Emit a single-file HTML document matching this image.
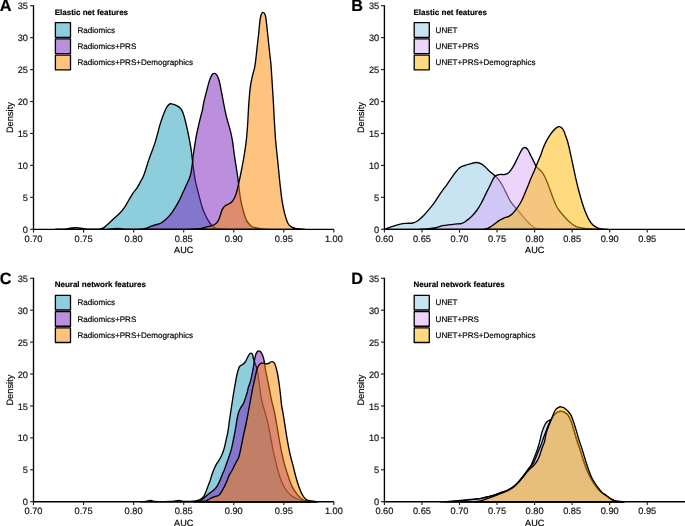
<!DOCTYPE html><html><head><meta charset="utf-8"><style>html,body{margin:0;padding:0;background:#fff;}svg{display:block;will-change:transform;} text{text-rendering:geometricPrecision;stroke:currentColor;stroke-width:0.18px;}</style></head><body>
<svg width="685" height="526" viewBox="0 0 685 526">
<rect width="685" height="526" fill="#fff"/>
<path d="M55.00,229.30 C56.17,229.28 60.00,229.28 62.00,229.20 C64.00,229.12 65.42,229.00 67.00,228.80 C68.58,228.60 69.95,228.20 71.50,228.00 C73.05,227.80 74.72,227.58 76.30,227.60 C77.88,227.62 79.55,227.88 81.00,228.10 C82.45,228.32 83.50,228.72 85.00,228.90 C86.50,229.08 88.00,229.15 90.00,229.20 C92.00,229.25 95.25,229.27 97.00,229.20 C98.75,229.13 99.35,229.07 100.50,228.80 C101.65,228.53 102.48,228.53 103.90,227.60 C105.32,226.67 107.28,224.75 109.00,223.20 C110.72,221.65 112.38,220.00 114.20,218.30 C116.02,216.60 118.23,214.75 119.90,213.00 C121.57,211.25 122.75,209.88 124.20,207.80 C125.65,205.72 127.13,202.93 128.60,200.50 C130.07,198.07 131.53,195.38 133.00,193.20 C134.47,191.02 136.07,189.47 137.40,187.40 C138.73,185.33 139.92,182.87 141.00,180.80 C142.08,178.73 142.55,178.65 143.90,175.00 C145.25,171.35 147.22,164.38 149.10,158.90 C150.98,153.42 153.42,147.68 155.20,142.10 C156.98,136.52 158.53,129.70 159.80,125.40 C161.07,121.10 161.78,119.08 162.80,116.30 C163.82,113.52 164.88,110.68 165.90,108.70 C166.92,106.72 168.02,105.22 168.90,104.40 C169.78,103.58 170.18,103.72 171.20,103.80 C172.22,103.88 173.73,104.38 175.00,104.90 C176.27,105.42 177.67,106.02 178.80,106.90 C179.93,107.78 180.92,108.63 181.80,110.20 C182.68,111.77 183.33,113.77 184.10,116.30 C184.87,118.83 185.63,122.10 186.40,125.40 C187.17,128.70 187.95,132.30 188.70,136.10 C189.45,139.90 190.30,144.40 190.90,148.20 C191.50,152.00 191.88,155.60 192.30,158.90 C192.72,162.20 192.88,164.30 193.40,168.00 C193.92,171.70 194.40,176.25 195.40,181.10 C196.40,185.95 198.33,192.95 199.40,197.10 C200.47,201.25 201.02,203.47 201.80,206.00 C202.58,208.53 203.12,210.03 204.10,212.30 C205.08,214.57 206.48,217.48 207.70,219.60 C208.92,221.72 210.18,223.63 211.40,225.00 C212.62,226.37 213.57,227.13 215.00,227.80 C216.43,228.47 217.83,228.75 220.00,229.00 C222.17,229.25 226.67,229.25 228.00,229.30 L228.00,229.30 L55.00,229.30 Z" fill="#1d9bb7" fill-opacity="0.500" stroke="#000" stroke-width="1.35" stroke-linejoin="round"/>
<path d="M108.00,229.30 C108.67,229.25 110.47,229.17 112.00,229.00 C113.53,228.83 115.53,228.30 117.20,228.30 C118.87,228.30 120.53,228.83 122.00,229.00 C123.47,229.17 123.33,229.25 126.00,229.30 C128.67,229.35 135.17,229.35 138.00,229.30 C140.83,229.25 141.60,229.18 143.00,229.00 C144.40,228.82 144.77,228.75 146.40,228.20 C148.03,227.65 150.38,226.55 152.80,225.70 C155.22,224.85 158.75,224.12 160.90,223.10 C163.05,222.08 163.83,221.38 165.70,219.60 C167.57,217.82 169.97,215.35 172.10,212.40 C174.23,209.45 176.62,205.38 178.50,201.90 C180.38,198.42 181.78,194.97 183.40,191.50 C185.02,188.03 187.02,183.85 188.20,181.10 C189.38,178.35 189.83,177.68 190.50,175.00 C191.17,172.32 191.73,168.33 192.20,165.00 C192.67,161.67 192.75,159.07 193.30,155.00 C193.85,150.93 194.92,144.18 195.50,140.60 C196.08,137.02 196.28,136.03 196.80,133.50 C197.32,130.97 198.02,127.97 198.60,125.40 C199.18,122.83 199.67,120.63 200.30,118.10 C200.93,115.57 201.83,112.77 202.40,110.20 C202.97,107.63 202.92,106.22 203.70,102.70 C204.48,99.18 206.10,92.93 207.10,89.10 C208.10,85.27 208.85,82.13 209.70,79.70 C210.55,77.27 211.43,75.57 212.20,74.50 C212.97,73.43 213.58,73.30 214.30,73.30 C215.02,73.30 215.70,73.30 216.50,74.50 C217.30,75.70 218.25,77.50 219.10,80.50 C219.95,83.50 220.75,88.22 221.60,92.50 C222.45,96.78 223.33,101.93 224.20,106.20 C225.07,110.47 225.80,114.12 226.80,118.10 C227.80,122.08 229.27,126.40 230.20,130.10 C231.13,133.80 231.73,136.32 232.40,140.30 C233.07,144.28 233.45,148.80 234.20,154.00 C234.95,159.20 236.17,166.55 236.90,171.50 C237.63,176.45 238.03,179.33 238.60,183.70 C239.17,188.07 239.57,193.33 240.30,197.70 C241.03,202.07 241.97,206.12 243.00,209.90 C244.03,213.68 245.05,217.63 246.50,220.40 C247.95,223.17 249.67,225.18 251.70,226.50 C253.73,227.82 256.48,227.85 258.70,228.30 C260.92,228.75 263.12,229.03 265.00,229.20 C266.88,229.37 269.17,229.28 270.00,229.30 L270.00,229.30 L108.00,229.30 Z" fill="#791fbd" fill-opacity="0.500" stroke="#000" stroke-width="1.35" stroke-linejoin="round"/>
<path d="M190.00,229.30 C190.83,229.27 193.38,229.20 195.00,229.10 C196.62,229.00 198.30,228.88 199.70,228.70 C201.10,228.52 202.18,228.32 203.40,228.00 C204.62,227.68 205.67,227.17 207.00,226.80 C208.33,226.43 210.07,226.22 211.40,225.80 C212.73,225.38 213.90,225.08 215.00,224.30 C216.10,223.52 217.15,222.48 218.00,221.10 C218.85,219.72 219.38,217.95 220.10,216.00 C220.82,214.05 221.40,211.13 222.30,209.40 C223.20,207.67 224.38,206.53 225.50,205.60 C226.62,204.67 227.83,204.53 229.00,203.80 C230.17,203.07 231.33,202.80 232.50,201.20 C233.67,199.60 234.98,197.12 236.00,194.20 C237.02,191.28 237.73,187.48 238.60,183.70 C239.47,179.92 240.33,175.87 241.20,171.50 C242.07,167.13 242.97,162.53 243.80,157.50 C244.63,152.47 245.57,146.72 246.20,141.30 C246.83,135.88 247.18,130.98 247.60,125.00 C248.02,119.02 248.25,111.72 248.70,105.40 C249.15,99.08 249.67,92.05 250.30,87.10 C250.93,82.15 251.75,79.12 252.50,75.70 C253.25,72.28 254.15,70.22 254.80,66.60 C255.45,62.98 255.95,57.82 256.40,54.00 C256.85,50.18 257.12,47.12 257.50,43.70 C257.88,40.28 258.32,37.10 258.70,33.50 C259.08,29.90 259.42,25.13 259.80,22.10 C260.18,19.07 260.47,16.92 261.00,15.30 C261.53,13.68 262.28,12.40 263.00,12.40 C263.72,12.40 264.73,13.68 265.30,15.30 C265.87,16.92 266.02,19.07 266.40,22.10 C266.78,25.13 267.22,29.90 267.60,33.50 C267.98,37.10 268.33,40.28 268.70,43.70 C269.07,47.12 269.42,50.45 269.80,54.00 C270.18,57.55 270.63,60.62 271.00,65.00 C271.37,69.38 271.62,74.33 272.00,80.30 C272.38,86.27 272.92,94.18 273.30,100.80 C273.68,107.42 273.90,113.25 274.30,120.00 C274.70,126.75 275.10,134.20 275.70,141.30 C276.30,148.40 277.18,155.52 277.90,162.60 C278.62,169.68 279.30,177.42 280.00,183.80 C280.70,190.18 281.32,195.93 282.10,200.90 C282.88,205.87 283.73,209.88 284.70,213.60 C285.67,217.32 286.67,220.90 287.90,223.20 C289.13,225.50 290.52,226.48 292.10,227.40 C293.68,228.32 295.25,228.38 297.40,228.70 C299.55,229.02 303.73,229.20 305.00,229.30 L305.00,229.30 L190.00,229.30 Z" fill="#ff8701" fill-opacity="0.500" stroke="#000" stroke-width="1.35" stroke-linejoin="round"/>
<path d="M33.50,5.19 V229.30 H333.89" fill="none" stroke="#000" stroke-width="1.35" stroke-linecap="butt"/>
<line x1="30.10" y1="229.30" x2="33.50" y2="229.30" stroke="#222" stroke-width="1.15"/>
<text x="28.00" y="232.90" text-anchor="end" font-family="Liberation Sans, sans-serif" font-size="9.25" fill="#1a1a1a">0</text>
<line x1="30.10" y1="197.36" x2="33.50" y2="197.36" stroke="#222" stroke-width="1.15"/>
<text x="28.00" y="200.96" text-anchor="end" font-family="Liberation Sans, sans-serif" font-size="9.25" fill="#1a1a1a">5</text>
<line x1="30.10" y1="165.41" x2="33.50" y2="165.41" stroke="#222" stroke-width="1.15"/>
<text x="28.00" y="169.01" text-anchor="end" font-family="Liberation Sans, sans-serif" font-size="9.25" fill="#1a1a1a">10</text>
<line x1="30.10" y1="133.47" x2="33.50" y2="133.47" stroke="#222" stroke-width="1.15"/>
<text x="28.00" y="137.06" text-anchor="end" font-family="Liberation Sans, sans-serif" font-size="9.25" fill="#1a1a1a">15</text>
<line x1="30.10" y1="101.52" x2="33.50" y2="101.52" stroke="#222" stroke-width="1.15"/>
<text x="28.00" y="105.12" text-anchor="end" font-family="Liberation Sans, sans-serif" font-size="9.25" fill="#1a1a1a">20</text>
<line x1="30.10" y1="69.58" x2="33.50" y2="69.58" stroke="#222" stroke-width="1.15"/>
<text x="28.00" y="73.18" text-anchor="end" font-family="Liberation Sans, sans-serif" font-size="9.25" fill="#1a1a1a">25</text>
<line x1="30.10" y1="37.63" x2="33.50" y2="37.63" stroke="#222" stroke-width="1.15"/>
<text x="28.00" y="41.23" text-anchor="end" font-family="Liberation Sans, sans-serif" font-size="9.25" fill="#1a1a1a">30</text>
<line x1="30.10" y1="5.69" x2="33.50" y2="5.69" stroke="#222" stroke-width="1.15"/>
<text x="28.00" y="9.29" text-anchor="end" font-family="Liberation Sans, sans-serif" font-size="9.25" fill="#1a1a1a">35</text>
<line x1="33.50" y1="229.30" x2="33.50" y2="232.60" stroke="#222" stroke-width="1.15"/>
<text x="33.50" y="241.80" text-anchor="middle" font-family="Liberation Sans, sans-serif" font-size="9.25" fill="#1a1a1a">0.70</text>
<line x1="83.56" y1="229.30" x2="83.56" y2="232.60" stroke="#222" stroke-width="1.15"/>
<text x="83.56" y="241.80" text-anchor="middle" font-family="Liberation Sans, sans-serif" font-size="9.25" fill="#1a1a1a">0.75</text>
<line x1="133.63" y1="229.30" x2="133.63" y2="232.60" stroke="#222" stroke-width="1.15"/>
<text x="133.63" y="241.80" text-anchor="middle" font-family="Liberation Sans, sans-serif" font-size="9.25" fill="#1a1a1a">0.80</text>
<line x1="183.70" y1="229.30" x2="183.70" y2="232.60" stroke="#222" stroke-width="1.15"/>
<text x="183.70" y="241.80" text-anchor="middle" font-family="Liberation Sans, sans-serif" font-size="9.25" fill="#1a1a1a">0.85</text>
<line x1="233.76" y1="229.30" x2="233.76" y2="232.60" stroke="#222" stroke-width="1.15"/>
<text x="233.76" y="241.80" text-anchor="middle" font-family="Liberation Sans, sans-serif" font-size="9.25" fill="#1a1a1a">0.90</text>
<line x1="283.82" y1="229.30" x2="283.82" y2="232.60" stroke="#222" stroke-width="1.15"/>
<text x="283.82" y="241.80" text-anchor="middle" font-family="Liberation Sans, sans-serif" font-size="9.25" fill="#1a1a1a">0.95</text>
<line x1="333.89" y1="229.30" x2="333.89" y2="232.60" stroke="#222" stroke-width="1.15"/>
<text x="333.89" y="241.80" text-anchor="middle" font-family="Liberation Sans, sans-serif" font-size="9.25" fill="#1a1a1a">1.00</text>
<text x="183.70" y="253.30" text-anchor="middle" font-family="Liberation Sans, sans-serif" font-size="9.1" fill="#000">AUC</text>
<text transform="translate(12.80,117.59) rotate(-90)" text-anchor="middle" font-family="Liberation Sans, sans-serif" font-size="9.3" fill="#000">Density</text>
<text x="54.70" y="14.65" font-family="Liberation Sans, sans-serif" font-size="8" font-weight="bold" fill="#000">Elastic net features</text>
<rect x="55.40" y="22.70" width="15.1" height="14.6" fill="#1d9bb7" fill-opacity="0.5" stroke="#000" stroke-width="1.3" stroke-linejoin="round"/>
<text x="77.40" y="32.75" font-family="Liberation Sans, sans-serif" font-size="8.07" fill="#000">Radiomics</text>
<rect x="55.40" y="38.95" width="15.1" height="14.6" fill="#791fbd" fill-opacity="0.5" stroke="#000" stroke-width="1.3" stroke-linejoin="round"/>
<text x="77.40" y="49.00" font-family="Liberation Sans, sans-serif" font-size="8.07" fill="#000">Radiomics+PRS</text>
<rect x="55.40" y="55.20" width="15.1" height="14.6" fill="#ff8701" fill-opacity="0.5" stroke="#000" stroke-width="1.3" stroke-linejoin="round"/>
<text x="77.40" y="65.25" font-family="Liberation Sans, sans-serif" font-size="8.07" fill="#000">Radiomics+PRS+Demographics</text>
<path d="M384.40,229.30 C385.00,229.08 386.65,228.48 388.00,228.00 C389.35,227.52 390.45,227.05 392.50,226.40 C394.55,225.75 397.97,224.62 400.30,224.10 C402.63,223.58 404.42,223.48 406.50,223.30 C408.58,223.12 410.98,223.38 412.80,223.00 C414.62,222.62 415.85,221.98 417.40,221.00 C418.95,220.02 420.27,218.92 422.10,217.10 C423.93,215.28 426.32,212.57 428.40,210.10 C430.48,207.63 432.53,205.17 434.60,202.30 C436.67,199.43 438.72,195.90 440.80,192.90 C442.88,189.90 445.02,187.23 447.10,184.30 C449.18,181.37 451.30,177.98 453.30,175.30 C455.30,172.62 457.22,169.83 459.10,168.20 C460.98,166.57 462.77,166.23 464.60,165.50 C466.43,164.77 468.17,164.30 470.10,163.80 C472.03,163.30 474.50,162.57 476.20,162.50 C477.90,162.43 478.82,162.68 480.30,163.40 C481.78,164.12 483.38,165.32 485.10,166.80 C486.82,168.28 488.90,170.78 490.60,172.30 C492.30,173.82 493.83,174.52 495.30,175.90 C496.77,177.28 498.12,178.83 499.40,180.60 C500.68,182.37 501.82,184.33 503.00,186.50 C504.18,188.67 505.33,191.23 506.50,193.60 C507.67,195.97 508.82,198.73 510.00,200.70 C511.18,202.67 512.52,204.03 513.60,205.40 C514.68,206.77 515.32,207.53 516.50,208.90 C517.68,210.27 519.22,211.83 520.70,213.60 C522.18,215.37 523.83,217.73 525.40,219.50 C526.97,221.27 528.53,222.82 530.10,224.20 C531.67,225.58 533.15,226.98 534.80,227.80 C536.45,228.62 538.30,228.85 540.00,229.10 C541.70,229.35 544.17,229.27 545.00,229.30 L545.00,229.30 L384.40,229.30 Z" fill="#91c9e5" fill-opacity="0.500" stroke="#000" stroke-width="1.35" stroke-linejoin="round"/>
<path d="M420.00,229.30 C421.13,229.22 424.37,229.02 426.80,228.80 C429.23,228.58 432.00,228.52 434.60,228.00 C437.20,227.48 439.80,226.27 442.40,225.70 C445.00,225.13 448.10,224.87 450.20,224.60 C452.30,224.33 453.03,224.32 455.00,224.10 C456.97,223.88 460.02,223.92 462.00,223.30 C463.98,222.68 465.27,221.57 466.90,220.40 C468.53,219.23 470.17,217.95 471.80,216.30 C473.43,214.65 475.20,212.55 476.70,210.50 C478.20,208.45 479.57,206.17 480.80,204.00 C482.03,201.83 483.02,199.68 484.10,197.50 C485.18,195.32 486.35,192.82 487.30,190.90 C488.25,188.98 488.97,187.68 489.80,186.00 C490.63,184.32 491.38,182.48 492.30,180.80 C493.22,179.12 493.98,176.97 495.30,175.90 C496.62,174.83 498.77,174.62 500.20,174.40 C501.63,174.18 502.48,174.88 503.90,174.60 C505.32,174.32 507.08,174.15 508.70,172.70 C510.32,171.25 511.98,168.65 513.60,165.90 C515.22,163.15 516.95,159.02 518.40,156.20 C519.85,153.38 521.22,150.45 522.30,149.00 C523.38,147.55 524.02,147.43 524.90,147.50 C525.78,147.57 526.57,147.95 527.60,149.40 C528.63,150.85 529.87,153.77 531.10,156.20 C532.33,158.63 534.10,162.22 535.00,164.00 C535.90,165.78 535.38,165.62 536.50,166.90 C537.62,168.18 540.18,169.77 541.70,171.70 C543.22,173.63 544.30,175.73 545.60,178.50 C546.90,181.27 548.20,184.90 549.50,188.30 C550.80,191.70 552.10,195.67 553.40,198.90 C554.70,202.13 556.20,205.60 557.30,207.70 C558.40,209.80 558.77,209.95 560.00,211.50 C561.23,213.05 563.15,215.30 564.70,217.00 C566.25,218.70 567.48,220.15 569.30,221.70 C571.12,223.25 573.52,225.27 575.60,226.30 C577.68,227.33 579.73,227.50 581.80,227.90 C583.87,228.30 585.63,228.47 588.00,228.70 C590.37,228.93 594.67,229.20 596.00,229.30 L596.00,229.30 L420.00,229.30 Z" fill="#d9a9f9" fill-opacity="0.500" stroke="#000" stroke-width="1.35" stroke-linejoin="round"/>
<path d="M484.00,229.30 C484.50,229.18 486.00,228.95 487.00,228.60 C488.00,228.25 488.72,227.98 490.00,227.20 C491.28,226.42 493.13,225.03 494.70,223.90 C496.27,222.77 497.82,221.42 499.40,220.40 C500.98,219.38 502.62,218.48 504.20,217.80 C505.78,217.12 507.53,216.97 508.90,216.30 C510.27,215.63 511.13,215.05 512.40,213.80 C513.67,212.55 515.12,210.68 516.50,208.80 C517.88,206.92 519.42,204.80 520.70,202.50 C521.98,200.20 523.03,197.67 524.20,195.00 C525.37,192.33 526.52,189.42 527.70,186.50 C528.88,183.58 530.12,180.33 531.30,177.50 C532.48,174.67 533.65,172.25 534.80,169.50 C535.95,166.75 537.20,163.42 538.20,161.00 C539.20,158.58 540.00,157.10 540.80,155.00 C541.60,152.90 542.12,150.63 543.00,148.40 C543.88,146.17 545.08,143.62 546.10,141.60 C547.12,139.58 547.97,138.02 549.10,136.30 C550.23,134.58 551.70,132.70 552.90,131.30 C554.10,129.90 555.22,128.67 556.30,127.90 C557.38,127.13 558.43,126.63 559.40,126.70 C560.37,126.77 561.33,127.53 562.10,128.30 C562.87,129.07 563.43,130.10 564.00,131.30 C564.57,132.50 564.93,133.92 565.50,135.50 C566.07,137.08 566.77,138.65 567.40,140.80 C568.03,142.95 568.78,146.20 569.30,148.40 C569.82,150.60 570.10,152.18 570.50,154.00 C570.90,155.82 571.12,156.60 571.70,159.30 C572.28,162.00 573.22,166.55 574.00,170.20 C574.78,173.85 575.62,177.82 576.40,181.20 C577.18,184.58 577.80,187.13 578.70,190.50 C579.60,193.87 580.77,198.03 581.80,201.40 C582.83,204.77 583.73,207.72 584.90,210.70 C586.07,213.68 587.50,216.95 588.80,219.30 C590.10,221.65 591.27,223.37 592.70,224.80 C594.13,226.23 595.85,227.22 597.40,227.90 C598.95,228.58 600.23,228.67 602.00,228.90 C603.77,229.13 607.00,229.23 608.00,229.30 L608.00,229.30 L484.00,229.30 Z" fill="#ffb500" fill-opacity="0.500" stroke="#000" stroke-width="1.35" stroke-linejoin="round"/>
<path d="M384.40,5.19 V229.30 H685.00" fill="none" stroke="#000" stroke-width="1.35" stroke-linecap="butt"/>
<line x1="381.00" y1="229.30" x2="384.40" y2="229.30" stroke="#222" stroke-width="1.15"/>
<text x="379.20" y="232.90" text-anchor="end" font-family="Liberation Sans, sans-serif" font-size="9.25" fill="#1a1a1a">0</text>
<line x1="381.00" y1="197.36" x2="384.40" y2="197.36" stroke="#222" stroke-width="1.15"/>
<text x="379.20" y="200.96" text-anchor="end" font-family="Liberation Sans, sans-serif" font-size="9.25" fill="#1a1a1a">5</text>
<line x1="381.00" y1="165.41" x2="384.40" y2="165.41" stroke="#222" stroke-width="1.15"/>
<text x="379.20" y="169.01" text-anchor="end" font-family="Liberation Sans, sans-serif" font-size="9.25" fill="#1a1a1a">10</text>
<line x1="381.00" y1="133.47" x2="384.40" y2="133.47" stroke="#222" stroke-width="1.15"/>
<text x="379.20" y="137.06" text-anchor="end" font-family="Liberation Sans, sans-serif" font-size="9.25" fill="#1a1a1a">15</text>
<line x1="381.00" y1="101.52" x2="384.40" y2="101.52" stroke="#222" stroke-width="1.15"/>
<text x="379.20" y="105.12" text-anchor="end" font-family="Liberation Sans, sans-serif" font-size="9.25" fill="#1a1a1a">20</text>
<line x1="381.00" y1="69.58" x2="384.40" y2="69.58" stroke="#222" stroke-width="1.15"/>
<text x="379.20" y="73.18" text-anchor="end" font-family="Liberation Sans, sans-serif" font-size="9.25" fill="#1a1a1a">25</text>
<line x1="381.00" y1="37.63" x2="384.40" y2="37.63" stroke="#222" stroke-width="1.15"/>
<text x="379.20" y="41.23" text-anchor="end" font-family="Liberation Sans, sans-serif" font-size="9.25" fill="#1a1a1a">30</text>
<line x1="381.00" y1="5.69" x2="384.40" y2="5.69" stroke="#222" stroke-width="1.15"/>
<text x="379.20" y="9.29" text-anchor="end" font-family="Liberation Sans, sans-serif" font-size="9.25" fill="#1a1a1a">35</text>
<line x1="384.40" y1="229.30" x2="384.40" y2="232.60" stroke="#222" stroke-width="1.15"/>
<text x="384.40" y="241.80" text-anchor="middle" font-family="Liberation Sans, sans-serif" font-size="9.25" fill="#1a1a1a">0.60</text>
<line x1="421.95" y1="229.30" x2="421.95" y2="232.60" stroke="#222" stroke-width="1.15"/>
<text x="421.95" y="241.80" text-anchor="middle" font-family="Liberation Sans, sans-serif" font-size="9.25" fill="#1a1a1a">0.65</text>
<line x1="459.50" y1="229.30" x2="459.50" y2="232.60" stroke="#222" stroke-width="1.15"/>
<text x="459.50" y="241.80" text-anchor="middle" font-family="Liberation Sans, sans-serif" font-size="9.25" fill="#1a1a1a">0.70</text>
<line x1="497.05" y1="229.30" x2="497.05" y2="232.60" stroke="#222" stroke-width="1.15"/>
<text x="497.05" y="241.80" text-anchor="middle" font-family="Liberation Sans, sans-serif" font-size="9.25" fill="#1a1a1a">0.75</text>
<line x1="534.60" y1="229.30" x2="534.60" y2="232.60" stroke="#222" stroke-width="1.15"/>
<text x="534.60" y="241.80" text-anchor="middle" font-family="Liberation Sans, sans-serif" font-size="9.25" fill="#1a1a1a">0.80</text>
<line x1="572.15" y1="229.30" x2="572.15" y2="232.60" stroke="#222" stroke-width="1.15"/>
<text x="572.15" y="241.80" text-anchor="middle" font-family="Liberation Sans, sans-serif" font-size="9.25" fill="#1a1a1a">0.85</text>
<line x1="609.70" y1="229.30" x2="609.70" y2="232.60" stroke="#222" stroke-width="1.15"/>
<text x="609.70" y="241.80" text-anchor="middle" font-family="Liberation Sans, sans-serif" font-size="9.25" fill="#1a1a1a">0.90</text>
<line x1="647.25" y1="229.30" x2="647.25" y2="232.60" stroke="#222" stroke-width="1.15"/>
<text x="647.25" y="241.80" text-anchor="middle" font-family="Liberation Sans, sans-serif" font-size="9.25" fill="#1a1a1a">0.95</text>
<text x="534.70" y="253.30" text-anchor="middle" font-family="Liberation Sans, sans-serif" font-size="9.1" fill="#000">AUC</text>
<text transform="translate(363.80,117.59) rotate(-90)" text-anchor="middle" font-family="Liberation Sans, sans-serif" font-size="9.3" fill="#000">Density</text>
<text x="413.50" y="14.65" font-family="Liberation Sans, sans-serif" font-size="8" font-weight="bold" fill="#000">Elastic net features</text>
<rect x="414.20" y="22.70" width="15.1" height="14.6" fill="#91c9e5" fill-opacity="0.5" stroke="#000" stroke-width="1.3" stroke-linejoin="round"/>
<text x="435.60" y="32.75" font-family="Liberation Sans, sans-serif" font-size="8.07" fill="#000">UNET</text>
<rect x="414.20" y="38.95" width="15.1" height="14.6" fill="#d9a9f9" fill-opacity="0.5" stroke="#000" stroke-width="1.3" stroke-linejoin="round"/>
<text x="435.60" y="49.00" font-family="Liberation Sans, sans-serif" font-size="8.07" fill="#000">UNET+PRS</text>
<rect x="414.20" y="55.20" width="15.1" height="14.6" fill="#ffb500" fill-opacity="0.5" stroke="#000" stroke-width="1.3" stroke-linejoin="round"/>
<text x="435.60" y="65.25" font-family="Liberation Sans, sans-serif" font-size="8.07" fill="#000">UNET+PRS+Demographics</text>
<path d="M140.00,501.70 C141.00,501.67 144.30,501.72 146.00,501.50 C147.70,501.28 148.87,500.43 150.20,500.40 C151.53,500.37 150.70,501.12 154.00,501.30 C157.30,501.48 165.87,501.65 170.00,501.50 C174.13,501.35 176.63,500.43 178.80,500.40 C180.97,500.37 181.13,501.13 183.00,501.30 C184.87,501.47 187.92,501.45 190.00,501.40 C192.08,501.35 193.92,501.25 195.50,501.00 C197.08,500.75 198.45,500.35 199.50,499.90 C200.55,499.45 201.07,498.92 201.80,498.30 C202.53,497.68 203.23,497.25 203.90,496.20 C204.57,495.15 205.18,493.48 205.80,492.00 C206.42,490.52 207.03,488.80 207.60,487.30 C208.17,485.80 208.70,484.37 209.20,483.00 C209.70,481.63 210.12,480.57 210.60,479.10 C211.08,477.63 211.58,475.72 212.10,474.20 C212.62,472.68 212.98,471.67 213.70,470.00 C214.42,468.33 215.45,465.92 216.40,464.20 C217.35,462.48 218.45,461.35 219.40,459.70 C220.35,458.05 221.33,456.08 222.10,454.30 C222.87,452.52 223.43,450.90 224.00,449.00 C224.57,447.10 225.07,444.80 225.50,442.90 C225.93,441.00 226.22,439.37 226.60,437.60 C226.98,435.83 227.43,434.32 227.80,432.30 C228.17,430.28 228.47,427.88 228.80,425.50 C229.13,423.12 229.43,420.58 229.80,418.00 C230.17,415.42 230.57,412.83 231.00,410.00 C231.43,407.17 231.88,404.33 232.40,401.00 C232.92,397.67 233.60,393.00 234.10,390.00 C234.60,387.00 234.88,385.75 235.40,383.00 C235.92,380.25 236.52,376.23 237.20,373.50 C237.88,370.77 238.60,368.10 239.50,366.60 C240.40,365.10 241.65,365.27 242.60,364.50 C243.55,363.73 244.38,363.17 245.20,362.00 C246.02,360.83 246.78,358.80 247.50,357.50 C248.22,356.20 248.92,354.93 249.50,354.20 C250.08,353.47 250.50,353.10 251.00,353.10 C251.50,353.10 252.10,353.30 252.50,354.20 C252.90,355.10 252.93,356.87 253.40,358.50 C253.87,360.13 254.65,362.02 255.30,364.00 C255.95,365.98 256.60,366.80 257.30,370.40 C258.00,374.00 258.78,380.67 259.50,385.60 C260.22,390.53 260.75,395.77 261.60,400.00 C262.45,404.23 263.50,406.93 264.60,411.00 C265.70,415.07 267.10,419.48 268.20,424.40 C269.30,429.32 270.27,435.65 271.20,440.50 C272.13,445.35 272.88,449.25 273.80,453.50 C274.72,457.75 275.60,461.83 276.70,466.00 C277.80,470.17 279.05,474.83 280.40,478.50 C281.75,482.17 283.12,485.25 284.80,488.00 C286.48,490.75 288.42,493.17 290.50,495.00 C292.58,496.83 295.22,498.03 297.30,499.00 C299.38,499.97 300.88,500.38 303.00,500.80 C305.12,501.22 307.83,501.35 310.00,501.50 C312.17,501.65 315.00,501.67 316.00,501.70 L316.00,501.70 L140.00,501.70 Z" fill="#1d9bb7" fill-opacity="0.500" stroke="#000" stroke-width="1.35" stroke-linejoin="round"/>
<path d="M194.00,501.70 C194.83,501.63 197.60,501.73 199.00,501.30 C200.40,500.87 201.40,499.82 202.40,499.10 C203.40,498.38 204.13,497.73 205.00,497.00 C205.87,496.27 206.68,495.45 207.60,494.70 C208.52,493.95 209.50,493.25 210.50,492.50 C211.50,491.75 212.47,491.32 213.60,490.20 C214.73,489.08 216.20,487.53 217.30,485.80 C218.40,484.07 219.33,481.78 220.20,479.80 C221.07,477.82 221.82,475.53 222.50,473.90 C223.18,472.27 223.67,471.62 224.30,470.00 C224.93,468.38 225.60,466.18 226.30,464.20 C227.00,462.22 227.75,460.25 228.50,458.10 C229.25,455.95 230.17,453.45 230.80,451.30 C231.43,449.15 231.85,447.23 232.30,445.20 C232.75,443.17 233.12,441.00 233.50,439.10 C233.88,437.20 234.25,435.65 234.60,433.80 C234.95,431.95 235.28,429.88 235.60,428.00 C235.92,426.12 236.20,424.25 236.50,422.50 C236.80,420.75 237.05,419.17 237.40,417.50 C237.75,415.83 238.10,414.05 238.60,412.50 C239.10,410.95 239.62,409.67 240.40,408.20 C241.18,406.73 242.43,405.47 243.30,403.70 C244.17,401.93 244.93,399.55 245.60,397.60 C246.27,395.65 246.80,393.85 247.30,392.00 C247.80,390.15 248.07,388.32 248.60,386.50 C249.13,384.68 249.80,383.73 250.50,381.10 C251.20,378.47 252.17,374.02 252.80,370.70 C253.43,367.38 253.83,363.82 254.30,361.20 C254.77,358.58 255.15,356.53 255.60,355.00 C256.05,353.47 256.52,352.68 257.00,352.00 C257.48,351.32 257.92,350.93 258.50,350.90 C259.08,350.87 259.87,351.20 260.50,351.80 C261.13,352.40 261.78,353.42 262.30,354.50 C262.82,355.58 263.23,356.92 263.60,358.30 C263.97,359.68 264.17,360.78 264.50,362.80 C264.83,364.82 264.90,366.60 265.60,370.40 C266.30,374.20 267.68,380.53 268.70,385.60 C269.72,390.67 270.78,396.57 271.70,400.80 C272.62,405.03 273.37,407.07 274.20,411.00 C275.03,414.93 275.83,419.48 276.70,424.40 C277.57,429.32 278.53,435.65 279.40,440.50 C280.27,445.35 281.00,449.33 281.90,453.50 C282.80,457.67 283.70,461.58 284.80,465.50 C285.90,469.42 287.27,473.43 288.50,477.00 C289.73,480.57 290.75,484.02 292.20,486.90 C293.65,489.78 295.55,492.23 297.20,494.30 C298.85,496.37 300.30,498.15 302.10,499.30 C303.90,500.45 306.02,500.80 308.00,501.20 C309.98,501.60 313.00,501.62 314.00,501.70 L314.00,501.70 L194.00,501.70 Z" fill="#791fbd" fill-opacity="0.500" stroke="#000" stroke-width="1.35" stroke-linejoin="round"/>
<path d="M200.00,501.70 C200.67,501.62 202.85,501.38 204.00,501.20 C205.15,501.02 205.98,500.97 206.90,500.60 C207.82,500.23 208.63,499.48 209.50,499.00 C210.37,498.52 210.93,498.17 212.10,497.70 C213.27,497.23 215.27,496.70 216.50,496.20 C217.73,495.70 218.50,495.70 219.50,494.70 C220.50,493.70 221.38,492.18 222.50,490.20 C223.62,488.22 225.10,485.27 226.20,482.80 C227.30,480.33 228.08,477.53 229.10,475.40 C230.12,473.27 231.25,471.98 232.30,470.00 C233.35,468.02 234.38,465.48 235.40,463.50 C236.42,461.52 237.65,459.88 238.40,458.10 C239.15,456.32 239.38,454.95 239.90,452.80 C240.42,450.65 240.98,447.73 241.50,445.20 C242.02,442.67 242.53,439.88 243.00,437.60 C243.47,435.32 243.87,433.43 244.30,431.50 C244.73,429.57 245.13,428.17 245.60,426.00 C246.07,423.83 246.65,420.83 247.10,418.50 C247.55,416.17 247.88,414.25 248.30,412.00 C248.72,409.75 249.08,407.83 249.60,405.00 C250.12,402.17 250.88,397.83 251.40,395.00 C251.92,392.17 252.22,390.32 252.70,388.00 C253.18,385.68 253.65,383.98 254.30,381.10 C254.95,378.22 255.93,373.22 256.60,370.70 C257.27,368.18 257.73,367.12 258.30,366.00 C258.87,364.88 259.45,364.48 260.00,364.00 C260.55,363.52 261.02,363.23 261.60,363.10 C262.18,362.97 262.83,363.08 263.50,363.20 C264.17,363.32 264.78,363.75 265.60,363.80 C266.42,363.85 267.58,363.80 268.40,363.50 C269.22,363.20 269.85,362.32 270.50,362.00 C271.15,361.68 271.72,361.50 272.30,361.60 C272.88,361.70 273.45,361.88 274.00,362.60 C274.55,363.32 275.02,364.08 275.60,365.90 C276.18,367.72 276.93,370.65 277.50,373.50 C278.07,376.35 278.53,379.72 279.00,383.00 C279.47,386.28 279.87,389.47 280.30,393.20 C280.73,396.93 281.15,402.10 281.60,405.40 C282.05,408.70 282.47,409.83 283.00,413.00 C283.53,416.17 284.07,419.82 284.80,424.40 C285.53,428.98 286.53,435.57 287.40,440.50 C288.27,445.43 289.10,449.97 290.00,454.00 C290.90,458.03 291.82,460.87 292.80,464.70 C293.78,468.53 294.87,473.30 295.90,477.00 C296.93,480.70 297.97,484.02 299.00,486.90 C300.03,489.78 300.97,492.23 302.10,494.30 C303.23,496.37 304.37,498.20 305.80,499.30 C307.23,500.40 308.67,500.50 310.70,500.90 C312.73,501.30 316.78,501.57 318.00,501.70 L318.00,501.70 L200.00,501.70 Z" fill="#ff8701" fill-opacity="0.500" stroke="#000" stroke-width="1.35" stroke-linejoin="round"/>
<path d="M33.50,277.79 V501.70 H333.89" fill="none" stroke="#000" stroke-width="1.35" stroke-linecap="butt"/>
<line x1="30.10" y1="501.70" x2="33.50" y2="501.70" stroke="#222" stroke-width="1.15"/>
<text x="28.00" y="505.30" text-anchor="end" font-family="Liberation Sans, sans-serif" font-size="9.25" fill="#1a1a1a">0</text>
<line x1="30.10" y1="469.78" x2="33.50" y2="469.78" stroke="#222" stroke-width="1.15"/>
<text x="28.00" y="473.38" text-anchor="end" font-family="Liberation Sans, sans-serif" font-size="9.25" fill="#1a1a1a">5</text>
<line x1="30.10" y1="437.87" x2="33.50" y2="437.87" stroke="#222" stroke-width="1.15"/>
<text x="28.00" y="441.47" text-anchor="end" font-family="Liberation Sans, sans-serif" font-size="9.25" fill="#1a1a1a">10</text>
<line x1="30.10" y1="405.95" x2="33.50" y2="405.95" stroke="#222" stroke-width="1.15"/>
<text x="28.00" y="409.56" text-anchor="end" font-family="Liberation Sans, sans-serif" font-size="9.25" fill="#1a1a1a">15</text>
<line x1="30.10" y1="374.04" x2="33.50" y2="374.04" stroke="#222" stroke-width="1.15"/>
<text x="28.00" y="377.64" text-anchor="end" font-family="Liberation Sans, sans-serif" font-size="9.25" fill="#1a1a1a">20</text>
<line x1="30.10" y1="342.12" x2="33.50" y2="342.12" stroke="#222" stroke-width="1.15"/>
<text x="28.00" y="345.73" text-anchor="end" font-family="Liberation Sans, sans-serif" font-size="9.25" fill="#1a1a1a">25</text>
<line x1="30.10" y1="310.21" x2="33.50" y2="310.21" stroke="#222" stroke-width="1.15"/>
<text x="28.00" y="313.81" text-anchor="end" font-family="Liberation Sans, sans-serif" font-size="9.25" fill="#1a1a1a">30</text>
<line x1="30.10" y1="278.29" x2="33.50" y2="278.29" stroke="#222" stroke-width="1.15"/>
<text x="28.00" y="281.89" text-anchor="end" font-family="Liberation Sans, sans-serif" font-size="9.25" fill="#1a1a1a">35</text>
<line x1="33.50" y1="501.70" x2="33.50" y2="505.00" stroke="#222" stroke-width="1.15"/>
<text x="33.50" y="514.20" text-anchor="middle" font-family="Liberation Sans, sans-serif" font-size="9.25" fill="#1a1a1a">0.70</text>
<line x1="83.56" y1="501.70" x2="83.56" y2="505.00" stroke="#222" stroke-width="1.15"/>
<text x="83.56" y="514.20" text-anchor="middle" font-family="Liberation Sans, sans-serif" font-size="9.25" fill="#1a1a1a">0.75</text>
<line x1="133.63" y1="501.70" x2="133.63" y2="505.00" stroke="#222" stroke-width="1.15"/>
<text x="133.63" y="514.20" text-anchor="middle" font-family="Liberation Sans, sans-serif" font-size="9.25" fill="#1a1a1a">0.80</text>
<line x1="183.70" y1="501.70" x2="183.70" y2="505.00" stroke="#222" stroke-width="1.15"/>
<text x="183.70" y="514.20" text-anchor="middle" font-family="Liberation Sans, sans-serif" font-size="9.25" fill="#1a1a1a">0.85</text>
<line x1="233.76" y1="501.70" x2="233.76" y2="505.00" stroke="#222" stroke-width="1.15"/>
<text x="233.76" y="514.20" text-anchor="middle" font-family="Liberation Sans, sans-serif" font-size="9.25" fill="#1a1a1a">0.90</text>
<line x1="283.82" y1="501.70" x2="283.82" y2="505.00" stroke="#222" stroke-width="1.15"/>
<text x="283.82" y="514.20" text-anchor="middle" font-family="Liberation Sans, sans-serif" font-size="9.25" fill="#1a1a1a">0.95</text>
<line x1="333.89" y1="501.70" x2="333.89" y2="505.00" stroke="#222" stroke-width="1.15"/>
<text x="333.89" y="514.20" text-anchor="middle" font-family="Liberation Sans, sans-serif" font-size="9.25" fill="#1a1a1a">1.00</text>
<text x="183.70" y="525.80" text-anchor="middle" font-family="Liberation Sans, sans-serif" font-size="9.1" fill="#000">AUC</text>
<text transform="translate(12.80,390.10) rotate(-90)" text-anchor="middle" font-family="Liberation Sans, sans-serif" font-size="9.3" fill="#000">Density</text>
<text x="54.70" y="287.35" font-family="Liberation Sans, sans-serif" font-size="8" font-weight="bold" fill="#000">Neural network features</text>
<rect x="55.40" y="295.40" width="15.1" height="14.6" fill="#1d9bb7" fill-opacity="0.5" stroke="#000" stroke-width="1.3" stroke-linejoin="round"/>
<text x="77.40" y="305.45" font-family="Liberation Sans, sans-serif" font-size="8.07" fill="#000">Radiomics</text>
<rect x="55.40" y="311.65" width="15.1" height="14.6" fill="#791fbd" fill-opacity="0.5" stroke="#000" stroke-width="1.3" stroke-linejoin="round"/>
<text x="77.40" y="321.70" font-family="Liberation Sans, sans-serif" font-size="8.07" fill="#000">Radiomics+PRS</text>
<rect x="55.40" y="327.90" width="15.1" height="14.6" fill="#ff8701" fill-opacity="0.5" stroke="#000" stroke-width="1.3" stroke-linejoin="round"/>
<text x="77.40" y="337.95" font-family="Liberation Sans, sans-serif" font-size="8.07" fill="#000">Radiomics+PRS+Demographics</text>
<path d="M440.00,501.70 C441.67,501.63 446.63,501.52 450.00,501.30 C453.37,501.08 456.80,500.72 460.20,500.40 C463.60,500.08 466.98,499.75 470.40,499.40 C473.82,499.05 478.13,498.67 480.70,498.30 C483.27,497.93 484.25,497.55 485.80,497.20 C487.35,496.85 488.18,496.70 490.00,496.20 C491.82,495.70 494.82,494.85 496.70,494.20 C498.58,493.55 499.65,492.90 501.30,492.30 C502.95,491.70 504.82,491.38 506.60,490.60 C508.38,489.82 510.55,488.53 512.00,487.60 C513.45,486.67 514.20,485.98 515.30,485.00 C516.40,484.02 517.50,482.92 518.60,481.70 C519.70,480.48 520.68,479.25 521.90,477.70 C523.12,476.15 524.67,474.07 525.90,472.40 C527.13,470.73 528.42,468.92 529.30,467.70 C530.18,466.48 530.42,466.68 531.20,465.10 C531.98,463.52 533.15,460.30 534.00,458.20 C534.85,456.10 535.58,454.45 536.30,452.50 C537.02,450.55 537.72,448.35 538.30,446.50 C538.88,444.65 539.15,443.75 539.75,441.40 C540.35,439.05 541.04,435.17 541.90,432.40 C542.76,429.62 544.02,426.55 544.90,424.75 C545.78,422.95 546.43,422.36 547.20,421.60 C547.97,420.84 548.82,420.58 549.50,420.20 C550.18,419.82 550.63,420.00 551.30,419.30 C551.97,418.60 552.68,417.03 553.50,416.00 C554.32,414.97 555.37,413.83 556.20,413.10 C557.03,412.37 557.73,411.92 558.50,411.60 C559.27,411.28 560.05,411.20 560.80,411.20 C561.55,411.20 562.25,411.33 563.00,411.60 C563.75,411.87 564.55,412.32 565.30,412.80 C566.05,413.28 566.83,413.72 567.50,414.50 C568.17,415.28 568.73,416.42 569.30,417.50 C569.87,418.58 570.43,419.83 570.90,421.00 C571.37,422.17 571.58,422.90 572.10,424.50 C572.62,426.10 573.25,428.02 574.00,430.60 C574.75,433.18 575.63,436.85 576.60,440.00 C577.57,443.15 578.75,446.25 579.80,449.50 C580.85,452.75 581.78,456.17 582.90,459.50 C584.02,462.83 585.22,466.37 586.50,469.50 C587.78,472.63 589.10,475.57 590.60,478.30 C592.10,481.03 593.78,483.60 595.50,485.90 C597.22,488.20 599.13,490.45 600.90,492.10 C602.67,493.75 604.50,494.67 606.10,495.80 C607.70,496.93 609.12,498.07 610.50,498.90 C611.88,499.73 612.82,500.35 614.40,500.80 C615.98,501.25 618.40,501.45 620.00,501.60 C621.60,501.75 623.33,501.68 624.00,501.70 L624.00,501.70 L440.00,501.70 Z" fill="#91c9e5" fill-opacity="0.500" stroke="#000" stroke-width="1.35" stroke-linejoin="round"/>
<path d="M445.00,501.70 C446.67,501.62 451.67,501.42 455.00,501.20 C458.33,500.98 461.67,500.72 465.00,500.40 C468.33,500.08 472.17,499.65 475.00,499.30 C477.83,498.95 480.00,498.68 482.00,498.30 C484.00,497.92 485.50,497.37 487.00,497.00 C488.50,496.63 489.38,496.52 491.00,496.10 C492.62,495.68 494.98,495.08 496.70,494.50 C498.42,493.92 499.65,493.22 501.30,492.60 C502.95,491.98 504.82,491.58 506.60,490.80 C508.38,490.02 510.55,488.82 512.00,487.90 C513.45,486.98 514.20,486.28 515.30,485.30 C516.40,484.32 517.50,483.22 518.60,482.00 C519.70,480.78 520.68,479.53 521.90,478.00 C523.12,476.47 524.67,474.42 525.90,472.80 C527.13,471.18 528.03,469.97 529.30,468.30 C530.57,466.63 532.30,464.85 533.50,462.80 C534.70,460.75 535.63,458.05 536.50,456.00 C537.37,453.95 538.02,452.17 538.70,450.50 C539.38,448.83 540.00,447.52 540.60,446.00 C541.20,444.48 541.77,442.90 542.30,441.40 C542.83,439.90 543.27,438.50 543.80,437.00 C544.33,435.50 544.80,434.23 545.50,432.40 C546.20,430.57 547.25,427.82 548.00,426.00 C548.75,424.18 549.37,422.78 550.00,421.50 C550.63,420.22 551.22,419.28 551.80,418.30 C552.38,417.32 552.77,416.45 553.50,415.60 C554.23,414.75 555.37,413.85 556.20,413.20 C557.03,412.55 557.73,412.02 558.50,411.70 C559.27,411.38 560.05,411.30 560.80,411.30 C561.55,411.30 562.25,411.43 563.00,411.70 C563.75,411.97 564.55,412.42 565.30,412.90 C566.05,413.38 566.83,413.83 567.50,414.60 C568.17,415.37 568.73,416.43 569.30,417.50 C569.87,418.57 570.43,419.83 570.90,421.00 C571.37,422.17 571.58,422.90 572.10,424.50 C572.62,426.10 573.21,428.02 574.00,430.60 C574.79,433.18 575.84,436.85 576.85,440.00 C577.86,443.15 579.00,446.25 580.05,449.50 C581.10,452.75 582.03,456.17 583.15,459.50 C584.27,462.83 585.47,466.37 586.75,469.50 C588.03,472.63 589.39,475.57 590.85,478.30 C592.31,481.03 593.83,483.60 595.50,485.90 C597.17,488.20 599.13,490.45 600.90,492.10 C602.67,493.75 604.50,494.67 606.10,495.80 C607.70,496.93 609.12,498.07 610.50,498.90 C611.88,499.73 612.82,500.35 614.40,500.80 C615.98,501.25 618.40,501.45 620.00,501.60 C621.60,501.75 623.33,501.68 624.00,501.70 L624.00,501.70 L445.00,501.70 Z" fill="#d9a9f9" fill-opacity="0.500" stroke="#000" stroke-width="1.35" stroke-linejoin="round"/>
<path d="M474.00,501.70 C475.12,501.55 478.70,501.25 480.70,500.80 C482.70,500.35 484.45,499.53 486.00,499.00 C487.55,498.47 488.22,498.27 490.00,497.60 C491.78,496.93 494.82,495.72 496.70,495.00 C498.58,494.28 499.65,493.93 501.30,493.30 C502.95,492.67 504.82,492.03 506.60,491.20 C508.38,490.37 510.55,489.23 512.00,488.30 C513.45,487.37 514.20,486.58 515.30,485.60 C516.40,484.62 517.50,483.60 518.60,482.40 C519.70,481.20 520.75,479.80 521.90,478.40 C523.05,477.00 524.23,475.53 525.50,474.00 C526.77,472.47 528.17,470.57 529.50,469.20 C530.83,467.83 532.27,467.12 533.50,465.80 C534.73,464.48 535.90,462.93 536.90,461.30 C537.90,459.67 538.72,457.97 539.50,456.00 C540.28,454.03 540.98,451.33 541.60,449.50 C542.22,447.67 542.70,446.35 543.20,445.00 C543.70,443.65 544.07,443.50 544.60,441.40 C545.13,439.30 545.63,435.17 546.40,432.40 C547.17,429.62 548.45,426.73 549.20,424.75 C549.95,422.77 550.38,421.79 550.90,420.50 C551.42,419.21 551.85,418.13 552.30,417.00 C552.75,415.87 553.05,414.92 553.60,413.70 C554.15,412.48 554.78,410.75 555.60,409.70 C556.42,408.65 557.63,407.88 558.50,407.40 C559.37,406.92 559.95,406.75 560.80,406.80 C561.65,406.85 562.65,407.22 563.60,407.70 C564.55,408.18 565.65,408.98 566.50,409.70 C567.35,410.42 567.90,410.97 568.70,412.00 C569.50,413.03 570.42,414.02 571.30,415.90 C572.18,417.78 573.17,420.85 574.00,423.30 C574.83,425.75 575.47,427.82 576.30,430.60 C577.13,433.38 578.02,436.85 579.00,440.00 C579.98,443.15 581.17,446.25 582.20,449.50 C583.23,452.75 584.15,456.17 585.20,459.50 C586.25,462.83 587.37,466.37 588.50,469.50 C589.63,472.63 590.65,475.60 592.00,478.30 C593.35,481.00 595.00,483.43 596.60,485.70 C598.20,487.97 599.95,490.25 601.60,491.90 C603.25,493.55 604.97,494.47 606.50,495.60 C608.03,496.73 609.45,497.87 610.80,498.70 C612.15,499.53 613.07,500.13 614.60,500.60 C616.13,501.07 618.43,501.32 620.00,501.50 C621.57,501.68 623.33,501.67 624.00,501.70 L624.00,501.70 L474.00,501.70 Z" fill="#ffb500" fill-opacity="0.500" stroke="#000" stroke-width="1.35" stroke-linejoin="round"/>
<path d="M384.40,277.79 V501.70 H685.00" fill="none" stroke="#000" stroke-width="1.35" stroke-linecap="butt"/>
<line x1="381.00" y1="501.70" x2="384.40" y2="501.70" stroke="#222" stroke-width="1.15"/>
<text x="379.20" y="505.30" text-anchor="end" font-family="Liberation Sans, sans-serif" font-size="9.25" fill="#1a1a1a">0</text>
<line x1="381.00" y1="469.78" x2="384.40" y2="469.78" stroke="#222" stroke-width="1.15"/>
<text x="379.20" y="473.38" text-anchor="end" font-family="Liberation Sans, sans-serif" font-size="9.25" fill="#1a1a1a">5</text>
<line x1="381.00" y1="437.87" x2="384.40" y2="437.87" stroke="#222" stroke-width="1.15"/>
<text x="379.20" y="441.47" text-anchor="end" font-family="Liberation Sans, sans-serif" font-size="9.25" fill="#1a1a1a">10</text>
<line x1="381.00" y1="405.95" x2="384.40" y2="405.95" stroke="#222" stroke-width="1.15"/>
<text x="379.20" y="409.56" text-anchor="end" font-family="Liberation Sans, sans-serif" font-size="9.25" fill="#1a1a1a">15</text>
<line x1="381.00" y1="374.04" x2="384.40" y2="374.04" stroke="#222" stroke-width="1.15"/>
<text x="379.20" y="377.64" text-anchor="end" font-family="Liberation Sans, sans-serif" font-size="9.25" fill="#1a1a1a">20</text>
<line x1="381.00" y1="342.12" x2="384.40" y2="342.12" stroke="#222" stroke-width="1.15"/>
<text x="379.20" y="345.73" text-anchor="end" font-family="Liberation Sans, sans-serif" font-size="9.25" fill="#1a1a1a">25</text>
<line x1="381.00" y1="310.21" x2="384.40" y2="310.21" stroke="#222" stroke-width="1.15"/>
<text x="379.20" y="313.81" text-anchor="end" font-family="Liberation Sans, sans-serif" font-size="9.25" fill="#1a1a1a">30</text>
<line x1="381.00" y1="278.29" x2="384.40" y2="278.29" stroke="#222" stroke-width="1.15"/>
<text x="379.20" y="281.89" text-anchor="end" font-family="Liberation Sans, sans-serif" font-size="9.25" fill="#1a1a1a">35</text>
<line x1="384.40" y1="501.70" x2="384.40" y2="505.00" stroke="#222" stroke-width="1.15"/>
<text x="384.40" y="514.20" text-anchor="middle" font-family="Liberation Sans, sans-serif" font-size="9.25" fill="#1a1a1a">0.60</text>
<line x1="421.95" y1="501.70" x2="421.95" y2="505.00" stroke="#222" stroke-width="1.15"/>
<text x="421.95" y="514.20" text-anchor="middle" font-family="Liberation Sans, sans-serif" font-size="9.25" fill="#1a1a1a">0.65</text>
<line x1="459.50" y1="501.70" x2="459.50" y2="505.00" stroke="#222" stroke-width="1.15"/>
<text x="459.50" y="514.20" text-anchor="middle" font-family="Liberation Sans, sans-serif" font-size="9.25" fill="#1a1a1a">0.70</text>
<line x1="497.05" y1="501.70" x2="497.05" y2="505.00" stroke="#222" stroke-width="1.15"/>
<text x="497.05" y="514.20" text-anchor="middle" font-family="Liberation Sans, sans-serif" font-size="9.25" fill="#1a1a1a">0.75</text>
<line x1="534.60" y1="501.70" x2="534.60" y2="505.00" stroke="#222" stroke-width="1.15"/>
<text x="534.60" y="514.20" text-anchor="middle" font-family="Liberation Sans, sans-serif" font-size="9.25" fill="#1a1a1a">0.80</text>
<line x1="572.15" y1="501.70" x2="572.15" y2="505.00" stroke="#222" stroke-width="1.15"/>
<text x="572.15" y="514.20" text-anchor="middle" font-family="Liberation Sans, sans-serif" font-size="9.25" fill="#1a1a1a">0.85</text>
<line x1="609.70" y1="501.70" x2="609.70" y2="505.00" stroke="#222" stroke-width="1.15"/>
<text x="609.70" y="514.20" text-anchor="middle" font-family="Liberation Sans, sans-serif" font-size="9.25" fill="#1a1a1a">0.90</text>
<line x1="647.25" y1="501.70" x2="647.25" y2="505.00" stroke="#222" stroke-width="1.15"/>
<text x="647.25" y="514.20" text-anchor="middle" font-family="Liberation Sans, sans-serif" font-size="9.25" fill="#1a1a1a">0.95</text>
<text x="534.70" y="525.80" text-anchor="middle" font-family="Liberation Sans, sans-serif" font-size="9.1" fill="#000">AUC</text>
<text transform="translate(363.80,390.10) rotate(-90)" text-anchor="middle" font-family="Liberation Sans, sans-serif" font-size="9.3" fill="#000">Density</text>
<text x="413.50" y="287.35" font-family="Liberation Sans, sans-serif" font-size="8" font-weight="bold" fill="#000">Neural network features</text>
<rect x="414.20" y="295.40" width="15.1" height="14.6" fill="#91c9e5" fill-opacity="0.5" stroke="#000" stroke-width="1.3" stroke-linejoin="round"/>
<text x="435.60" y="305.45" font-family="Liberation Sans, sans-serif" font-size="8.07" fill="#000">UNET</text>
<rect x="414.20" y="311.65" width="15.1" height="14.6" fill="#d9a9f9" fill-opacity="0.5" stroke="#000" stroke-width="1.3" stroke-linejoin="round"/>
<text x="435.60" y="321.70" font-family="Liberation Sans, sans-serif" font-size="8.07" fill="#000">UNET+PRS</text>
<rect x="414.20" y="327.90" width="15.1" height="14.6" fill="#ffb500" fill-opacity="0.5" stroke="#000" stroke-width="1.3" stroke-linejoin="round"/>
<text x="435.60" y="337.95" font-family="Liberation Sans, sans-serif" font-size="8.07" fill="#000">UNET+PRS+Demographics</text>
<text x="-0.20" y="11.40" font-family="Liberation Sans, sans-serif" font-size="16.3" font-weight="bold" fill="#000">A</text>
<text x="351.30" y="11.40" font-family="Liberation Sans, sans-serif" font-size="16.3" font-weight="bold" fill="#000">B</text>
<text x="-0.20" y="283.90" font-family="Liberation Sans, sans-serif" font-size="16.3" font-weight="bold" fill="#000">C</text>
<text x="351.30" y="283.90" font-family="Liberation Sans, sans-serif" font-size="16.3" font-weight="bold" fill="#000">D</text>
</svg></body></html>
